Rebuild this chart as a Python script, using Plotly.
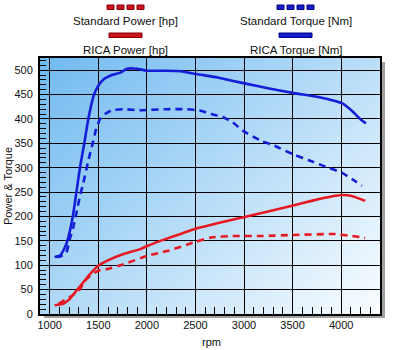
import zlib, struct, base64
import plotly.graph_objects as go

# ---------------- data ----------------
rica_torque_rpm = [1050, 1100, 1140, 1172, 1210, 1242, 1275, 1311, 1356, 1397, 1456, 1500, 1553,
                   1640, 1726, 1795, 1898, 2000, 2200, 2350, 2510, 2728, 3004, 3246, 3516, 3765,
                   3937, 4013, 4110, 4196, 4255]
rica_torque = [117, 119, 130, 144, 172, 205, 250, 300, 350, 400, 450, 468, 481,
               490, 495, 503, 503, 499, 499, 498, 492, 485, 473, 463, 453, 445,
               437, 432, 417, 400, 391]

std_torque_rpm = [1065, 1110, 1172, 1207, 1242, 1276, 1311, 1345, 1397, 1414, 1449, 1477, 1518,
                  1570, 1640, 1760, 1933, 2200, 2400, 2555, 2660, 2780, 2885, 2987, 3177, 3315,
                  3522, 3660, 3868, 4006, 4110, 4214]
std_torque = [117, 118, 126, 154, 177, 208, 242, 268, 314, 328, 355, 379, 400,
              410, 418, 420, 418, 420, 420, 417, 410, 404, 393, 376, 355, 345,
              326, 316, 300, 290, 277, 263]

rica_power_rpm = [1050, 1140, 1207, 1276, 1345, 1415, 1500, 1588, 1760, 1933, 2009, 2140, 2240,
                  2503, 3004, 3516, 3695, 3900, 4006, 4110, 4248]
rica_power = [18, 21, 31, 48, 65, 82, 99, 109, 123, 133, 140, 150, 157,
              175, 199, 223, 232, 241, 244, 242, 232]

std_power_rpm = [1090, 1224, 1311, 1363, 1415, 1500, 1588, 1760, 2000, 2140, 2227, 2503, 2659,
                 2900, 3200, 3500, 3937, 4110, 4248]
std_power = [21, 37, 51, 68, 78, 89, 92, 102, 119, 126, 130, 148, 157,
             160, 160, 162, 164, 160, 156]

series_names = ["Standard Power [hp]", "Standard Torque [Nm]", "RICA Power [hp]", "RICA Torque [Nm]"]
x_title = "rpm"
y_title = "Power & Torque"

RED = "rgb(230,25,35)"
BLUE = "rgb(20,30,215)"

# ---------------- background gradient image ----------------
def make_png(w, h, fn):
    raw = bytearray()
    for j in range(h):
        raw.append(0)
        for i in range(w):
            raw.extend(fn(i / (w - 1), j / (h - 1)))

    def chunk(t, d):
        c = struct.pack('>I', len(d)) + t + d
        return c + struct.pack('>I', zlib.crc32(t + d) & 0xffffffff)

    return (b'\x89PNG\r\n\x1a\n'
            + chunk(b'IHDR', struct.pack('>IIBBBBB', w, h, 8, 2, 0, 0, 0))
            + chunk(b'IDAT', zlib.compress(bytes(raw)))
            + chunk(b'IEND', b''))

c0 = (112, 186, 240)
c1 = (250, 253, 255)

def grad(u, v):
    t = min(1.0, max(0.0, 0.55 * u + 0.45 * v))
    return bytes(int(round(c0[k] + (c1[k] - c0[k]) * t)) for k in range(3))

png = make_png(120, 90, grad)
uri = "data:image/png;base64," + base64.b64encode(png).decode()

# ---------------- figure ----------------
SM = 0.35
fig = go.Figure()
fig.add_trace(go.Scatter(x=rica_torque_rpm, y=rica_torque, mode="lines", name=series_names[3],
                         line=dict(color=BLUE, width=2.6, shape="spline", smoothing=SM)))
fig.add_trace(go.Scatter(x=std_torque_rpm, y=std_torque, mode="lines", name=series_names[1],
                         line=dict(color=BLUE, width=2.6, dash="7px,5px", shape="spline", smoothing=SM)))
fig.add_trace(go.Scatter(x=rica_power_rpm, y=rica_power, mode="lines", name=series_names[2],
                         line=dict(color=RED, width=2.6, shape="spline", smoothing=SM)))
fig.add_trace(go.Scatter(x=std_power_rpm, y=std_power, mode="lines", name=series_names[0],
                         line=dict(color=RED, width=2.6, dash="7px,5px", shape="spline", smoothing=SM)))

L, R, T, B = 40, 20, 58, 36
W, H = 400, 350
PW, PH = W - L - R, H - T - B

def px_x(p):
    return (p - L) / PW

def px_y(p):
    return (H - B - p) / PH

shapes = []
# shadow
shapes.append(dict(type="rect", xref="paper", yref="paper", x0=1, x1=px_x(385), y0=px_y(318), y1=px_y(62),
                   fillcolor="#a0a0a0", line=dict(width=0), layer="below"))
shapes.append(dict(type="rect", xref="paper", yref="paper", x0=px_x(44), x1=px_x(385), y0=px_y(318), y1=0,
                   fillcolor="#a0a0a0", line=dict(width=0), layer="below"))

# legend samples
def dashed_sample(x0, fill, edge):
    for k in range(4):
        xs = x0 + k * 10
        shapes.append(dict(type="rect", xref="paper", yref="paper", x0=px_x(xs), x1=px_x(xs + 7),
                           y0=px_y(9.5), y1=px_y(5), fillcolor=fill, line=dict(color=edge, width=1)))

def solid_sample(x0, x1, fill, edge):
    shapes.append(dict(type="rect", xref="paper", yref="paper", x0=px_x(x0), x1=px_x(x1),
                       y0=px_y(37.5), y1=px_y(33), fillcolor=fill, line=dict(color=edge, width=1)))

dashed_sample(107, "rgb(205,20,30)", "rgb(130,0,0)")
dashed_sample(277, "rgb(20,30,205)", "rgb(0,0,130)")
solid_sample(109, 142, "rgb(205,20,30)", "rgb(130,0,0)")
solid_sample(279, 312, "rgb(20,30,205)", "rgb(0,0,130)")

FONT = "Liberation Sans, Arial, sans-serif"
annotations = []
for name, cx, cy in [(series_names[0], 125.5, 21), (series_names[1], 296, 21),
                     (series_names[2], 125, 50), (series_names[3], 295.5, 50)]:
    annotations.append(dict(text=name, x=px_x(cx), y=px_y(cy), xref="paper", yref="paper",
                            xanchor="center", yanchor="middle", showarrow=False,
                            font=dict(family=FONT, size=11.5, color="#111")))
annotations.append(dict(text=y_title, x=px_x(8), y=px_y(186), xref="paper", yref="paper", textangle=-90,
                        xanchor="center", yanchor="middle", showarrow=False,
                        font=dict(family=FONT, size=11, color="#111")))
annotations.append(dict(text=x_title, x=px_x(211), y=px_y(342), xref="paper", yref="paper",
                        xanchor="center", yanchor="middle", showarrow=False,
                        font=dict(family=FONT, size=11, color="#111")))

axis_common = dict(showgrid=True, gridcolor="black", gridwidth=1.4, showline=True, linecolor="black",
                   linewidth=2, mirror=True, zeroline=False, ticks="inside", tickcolor="black",
                   tickfont=dict(family=FONT, size=11, color="#111"))

fig.update_layout(
    width=W, height=H, margin=dict(l=L, r=R, t=T, b=B, pad=0),
    paper_bgcolor="white", plot_bgcolor="rgba(0,0,0,0)",
    showlegend=False,
    shapes=shapes, annotations=annotations,
    images=[dict(source=uri, xref="paper", yref="paper", x=0, y=1, sizex=1, sizey=1,
                 sizing="stretch", xanchor="left", yanchor="top", layer="below")],
    xaxis=dict(range=[900, 4400], tickvals=[1000, 1500, 2000, 2500, 3000, 3500, 4000], ticklen=8,
               minor=dict(dtick=100, ticks="inside", ticklen=7, tickcolor="black", showgrid=False),
               **axis_common),
    yaxis=dict(range=[0, 525], dtick=50, ticklen=10, ticklabelstandoff=3,
               minor=dict(dtick=10, ticks="inside", ticklen=6, tickcolor="black", showgrid=False),
               **axis_common),
)

fig.write_html("out.html")
